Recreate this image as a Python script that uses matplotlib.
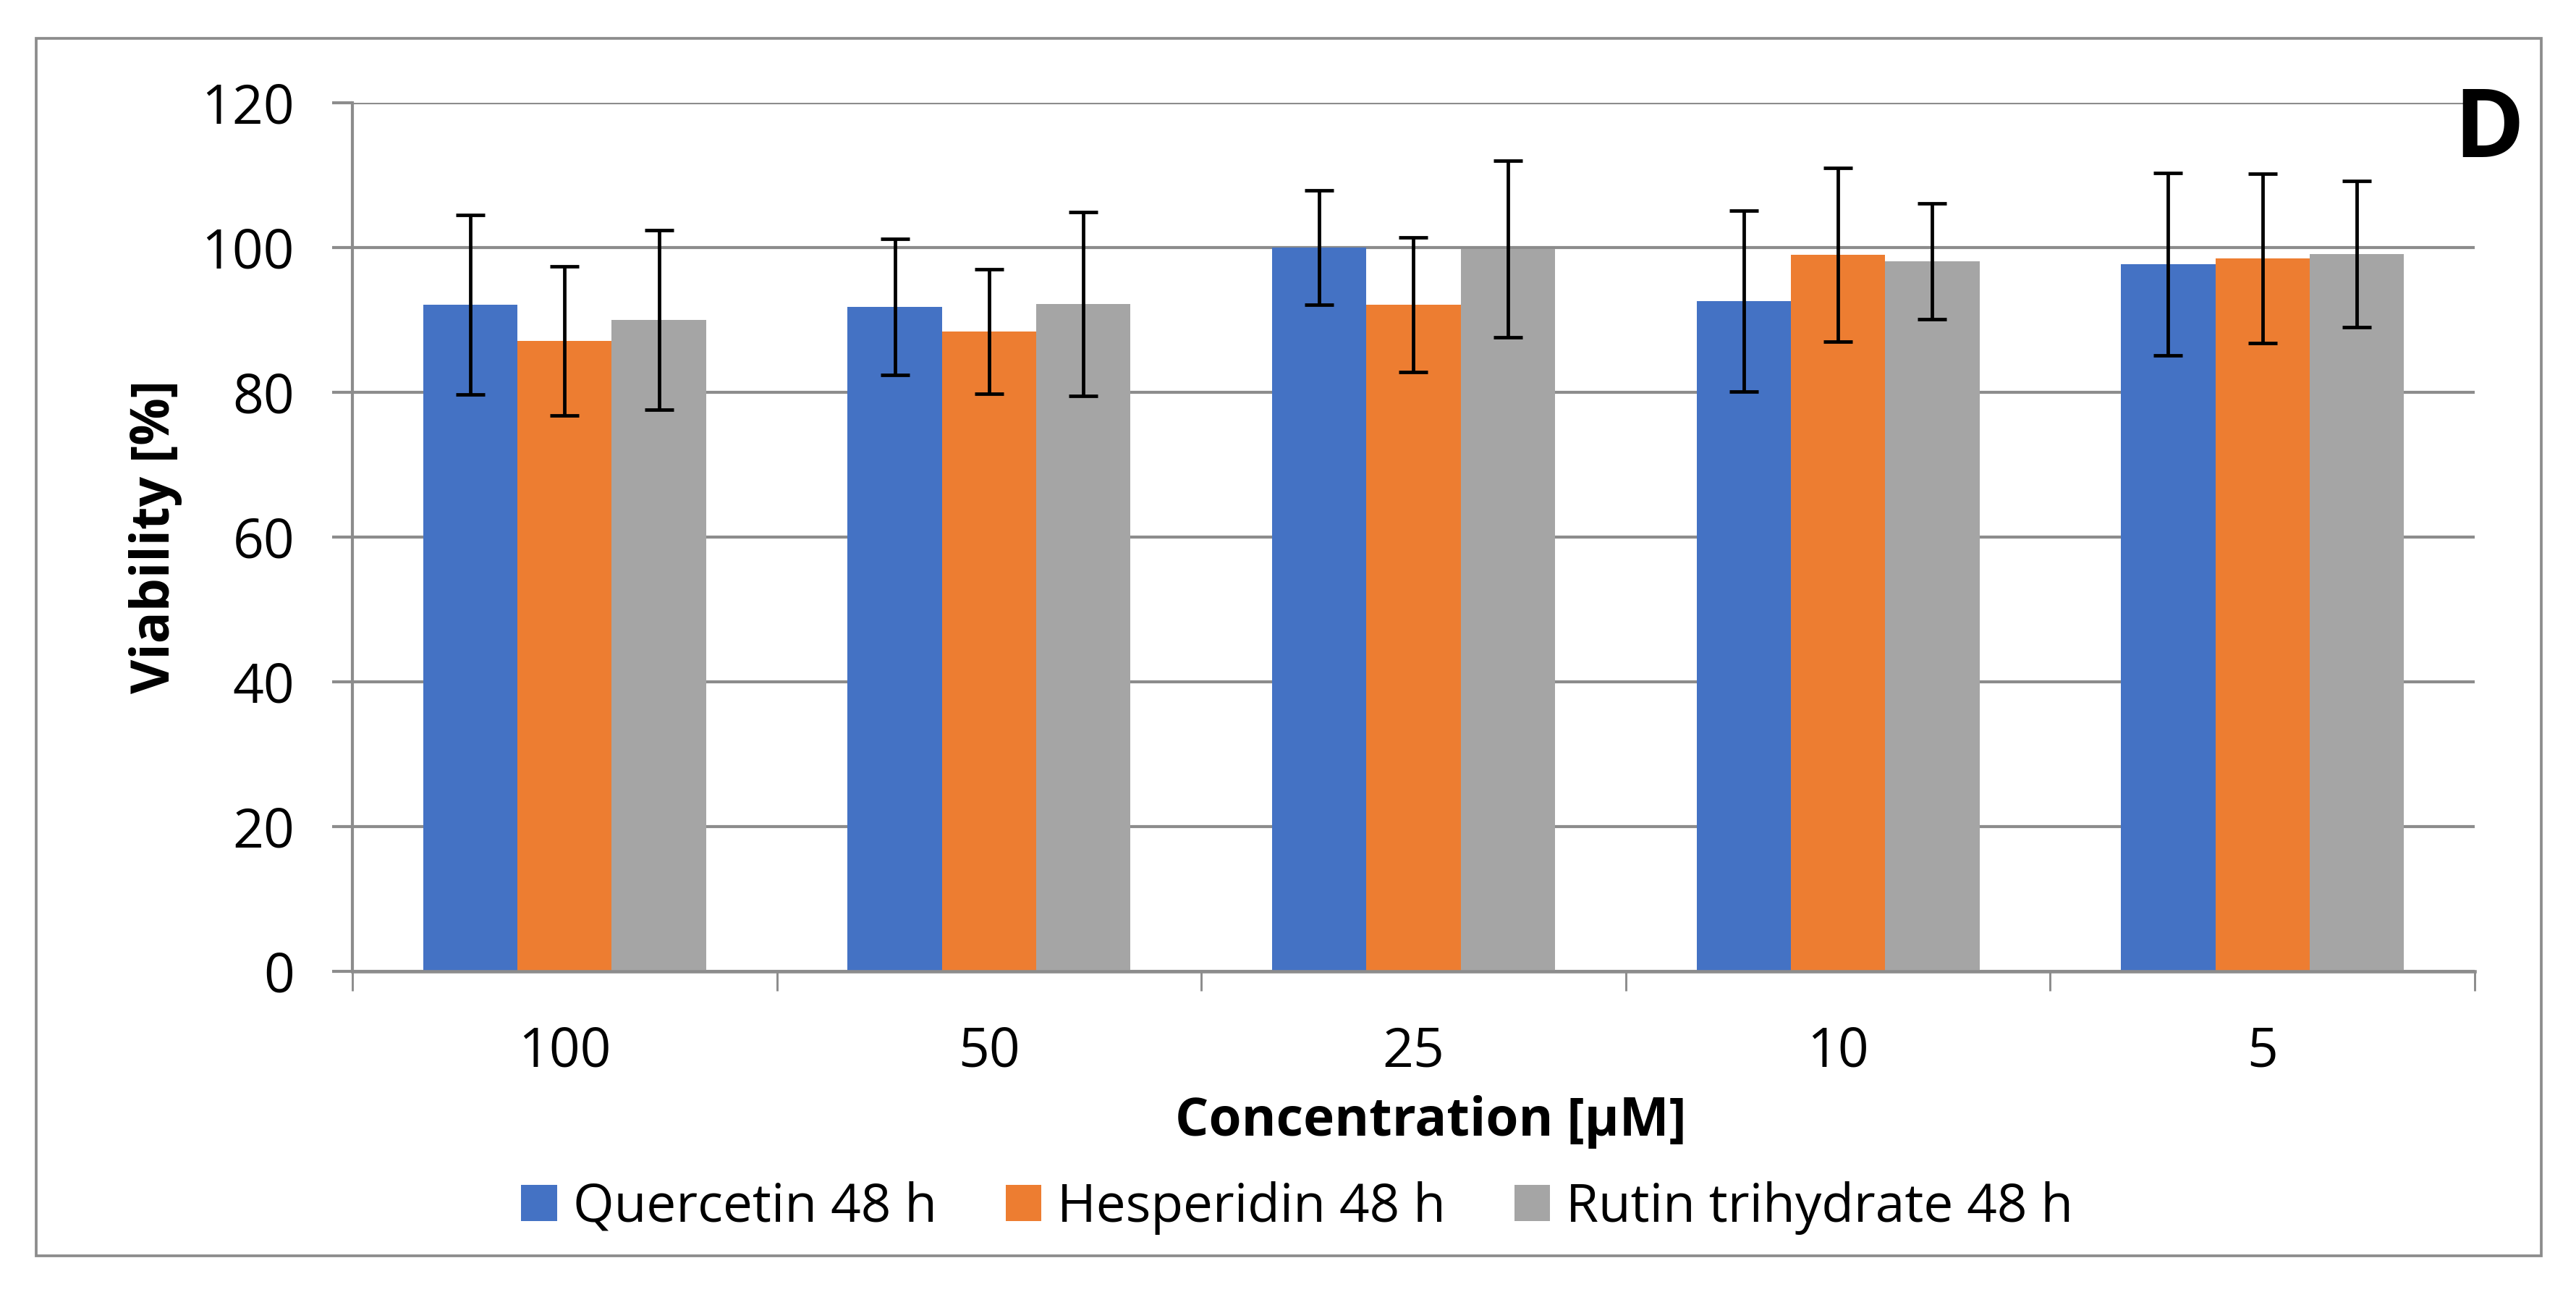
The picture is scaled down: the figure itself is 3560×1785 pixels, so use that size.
import matplotlib
matplotlib.use("Agg")
import matplotlib.pyplot as plt
import numpy as np
from matplotlib.patches import Rectangle, Patch

plt.rcParams['font.family'] = ['Open Sans', 'DejaVu Sans']

categories = ['100', '50', '25', '10', '5']
series_names = ['Quercetin 48 h', 'Hesperidin 48 h', 'Rutin trihydrate 48 h']
quercetin = [92.1, 91.8, 100.0, 92.6, 97.7]
quercetin_err = [12.4, 9.4, 7.9, 12.5, 12.6]
hesperidin = [87.1, 88.4, 92.1, 99.0, 98.5]
hesperidin_err = [10.3, 8.6, 9.3, 12.0, 11.7]
rutin = [90.0, 92.2, 99.8, 98.1, 99.1]
rutin_err = [12.4, 12.7, 12.2, 8.0, 10.1]
yticks = [0, 20, 40, 60, 80, 100, 120]
colors = ['#4472C4', '#ED7D31', '#A5A5A5']

W, H = 3561, 1785
DPI = 300
fig = plt.figure(figsize=(W / DPI, H / DPI), dpi=DPI)

def px(x0, y0, x1, y1):
    return [x0 / W, 1 - y1 / H, (x1 - x0) / W, (y1 - y0) / H]

ax = fig.add_axes(px(487, 142, 3420, 1342))

grey = '#8c8c8c'
x = np.arange(len(categories))
bw = 1 / 4.5
data = [quercetin, hesperidin, rutin]
errs = [quercetin_err, hesperidin_err, rutin_err]
for i, (vals, er, c, name) in enumerate(zip(data, errs, colors, series_names)):
    ax.bar(x + (i - 1) * bw, vals, width=bw, color=c, label=name, zorder=2,
           yerr=er, error_kw=dict(ecolor='black', elinewidth=1.15, capsize=4.7,
                                  capthick=1.15, zorder=3))

ax.set_xlim(-0.5, len(categories) - 0.5)
ax.set_ylim(0, 120)
ax.set_yticks(yticks)
ax.set_yticklabels([str(v) for v in yticks])
ax.yaxis.grid(True, color=grey, linewidth=1.0, zorder=0)
ax.set_axisbelow(True)

for s in ['top', 'right']:
    ax.spines[s].set_visible(False)
ax.spines['left'].set_color(grey)
ax.spines['left'].set_linewidth(1.0)
ax.spines['bottom'].set_color(grey)
ax.spines['bottom'].set_linewidth(1.1)

ax.tick_params(axis='y', direction='out', length=6.7, width=1.0, color=grey,
               pad=12.5, labelsize=18, labelcolor='black')
ax.set_xticks(x)
ax.set_xticklabels(categories)
ax.set_xticks(np.arange(-0.5, len(categories), 1.0), minor=True)
ax.tick_params(axis='x', which='major', length=0, pad=18, labelsize=18,
               labelcolor='black')
ax.tick_params(axis='x', which='minor', direction='out', length=6.5, width=0.7,
               color=grey)

ax.set_xlabel('Concentration [µM]', fontsize=17.5, fontweight='bold', va='center')
ax.xaxis.set_label_coords(0.508, -0.173)
ax.set_ylabel('Viability [%]', fontsize=17.5, fontweight='bold', va='center')
ax.yaxis.set_label_coords((215 - 487) / (3420 - 487), 0.5)

handles = [Patch(facecolor=c, edgecolor='none') for c in colors]
fig.legend(handles, series_names, loc='center',
           bbox_to_anchor=(0.5035, 1 - 1669 / H), ncol=3, frameon=False,
           fontsize=17.5, handlelength=0.68, handleheight=0.68,
           handletextpad=0.3, columnspacing=1.3)

fig.text(3391 / W, 1 - 217 / H, 'D', fontsize=31.5, fontweight='bold',
         ha='left', va='baseline')

border = Rectangle((50 / W, 1 - 1735 / H), (3512 - 50) / W, (1735 - 53) / H,
                   transform=fig.transFigure, fill=False, edgecolor=grey,
                   linewidth=0.9)
fig.patches.append(border)

fig.savefig('out.png', dpi=DPI, facecolor='white')
